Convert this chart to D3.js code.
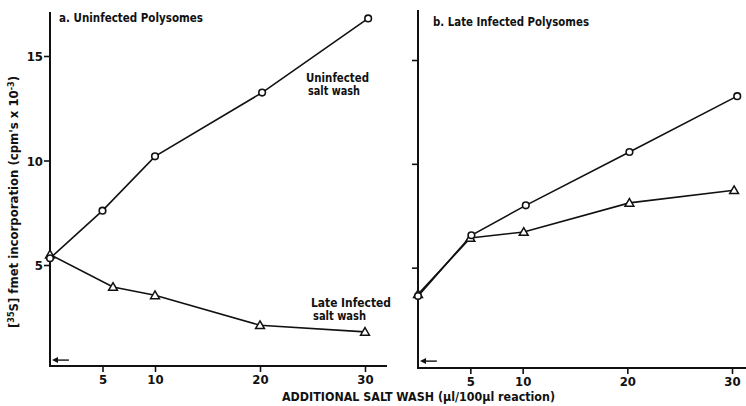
<!DOCTYPE html>
<html><head><meta charset="utf-8">
<script src="https://cdn.jsdelivr.net/npm/d3@7"></script>
<style>
body{margin:0;background:#fff;}
svg text{font-family:"DejaVu Sans Condensed","DejaVu Sans",sans-serif;font-weight:bold;fill:#111;}
</style></head><body>
<svg id="c" width="746" height="406"></svg>
<script>
// ---- data ----
const xTicks = [5, 10, 20, 30];
const yTicks = [5, 10, 15];
const yTickLabels = ["5", "10", "15"];

const aUninfX = [0, 5, 10, 20.2, 30.3];
const aUninfY = [5.32, 7.6, 10.2, 13.25, 16.8];
const aLateX  = [0, 6, 10, 20, 30];
const aLateY  = [5.5, 3.95, 3.55, 2.12, 1.8];
const aBaseline = 0.45;

const bUninfX = [0, 5.1, 10.3, 20.2, 30.5];
const bUninfY = [3.63, 6.56, 8.0, 10.57, 13.26];
const bLateX  = [0, 5, 10.1, 20.2, 30.2];
const bLateY  = [3.72, 6.43, 6.72, 8.12, 8.73];
const bBaseline = 0.5;

const svg = d3.select("#c");
const ink = "#111";

function fitText(sel, len){
  return sel.attr("textLength", len).attr("lengthAdjust","spacingAndGlyphs");
}

function panel(opts){
  const x = d3.scaleLinear().domain([0,30]).range(opts.xr);
  const y = d3.scaleLinear().domain([0,15]).range(opts.yr);
  const g = svg.append("g");
  // y axis
  const yAx = d3.axisLeft(y).tickValues(yTicks).tickSize(6).tickPadding(1)
     .tickFormat((d,i)=> opts.yLabels ? yTickLabels[i] : "");
  const ya = g.append("g").attr("transform",`translate(${opts.xr[0]},0)`).call(yAx);
  ya.select(".domain").remove();
  ya.selectAll("line").attr("stroke",ink).attr("stroke-width",1.6);
  ya.selectAll("text").style("font-size","13px").attr("dy","0.36em");
  g.append("line").attr("x1",opts.xr[0]).attr("x2",opts.xr[0])
    .attr("y1",opts.top).attr("y2",opts.bottom).attr("stroke",ink).attr("stroke-width",2);
  // x axis
  const xAx = d3.axisBottom(x).tickValues(xTicks).tickSize(6).tickPadding(3);
  const xa = g.append("g").attr("transform",`translate(0,${opts.bottom})`).call(xAx);
  xa.select(".domain").remove();
  xa.selectAll("line").attr("stroke",ink).attr("stroke-width",1.6);
  xa.selectAll("text").style("font-size","13px");
  g.append("line").attr("x1",opts.xr[0]-1).attr("x2",opts.xEnd)
    .attr("y1",opts.bottom).attr("y2",opts.bottom).attr("stroke",ink).attr("stroke-width",2);
  // baseline arrow
  const ay = y(opts.baseline);
  g.append("line").attr("x1",x(0)+4).attr("x2",x(1.8)).attr("y1",ay).attr("y2",ay)
    .attr("stroke",ink).attr("stroke-width",1.4);
  g.append("path").attr("d",`M${x(0)+2},${ay} l6,-3 l0,6 z`).attr("fill",ink);
  // series
  const line = d3.line().x(d=>x(d[0])).y(d=>y(d[1]));
  const s1 = opts.ux.map((v,i)=>[v,opts.uy[i]]);
  const s2 = opts.lx.map((v,i)=>[v,opts.ly[i]]);
  [s2,s1].forEach(s=> g.append("path").datum(s).attr("d",line)
      .attr("fill","none").attr("stroke",ink).attr("stroke-width",1.6));
  g.selectAll(".tri").data(s2).join("path")
    .attr("d",d3.symbol(d3.symbolTriangle,34)())
    .attr("transform",d=>`translate(${x(d[0])},${y(d[1])+0.8})`)
    .attr("fill","#fff").attr("stroke",ink).attr("stroke-width",1.5);
  g.selectAll(".cir").data(s1).join("circle")
    .attr("cx",d=>x(d[0])).attr("cy",d=>y(d[1])).attr("r",3.3)
    .attr("fill","#fff").attr("stroke",ink).attr("stroke-width",1.6);
  fitText(g.append("text").attr("x",opts.titleX).attr("y",opts.titleY)
    .style("font-size","12.5px").text(opts.title), opts.titleLen);
}

panel({xr:[50,365], yr:[369.5,56], top:12, bottom:366, xEnd:387,
  ux:aUninfX, uy:aUninfY, lx:aLateX, ly:aLateY, baseline:aBaseline,
  yLabels:true, title:"a. Uninfected Polysomes", titleX:59, titleY:22, titleLen:144});
panel({xr:[418,732], yr:[371.5,60], top:10, bottom:368, xEnd:746,
  ux:bUninfX, uy:bUninfY, lx:bLateX, ly:bLateY, baseline:bBaseline,
  yLabels:false, title:"b. Late Infected Polysomes", titleX:433, titleY:26, titleLen:156});

// annotations
const ann = svg.append("g").style("font-size","12px");
fitText(ann.append("text").attr("x",306).attr("y",82).text("Uninfected"), 63);
fitText(ann.append("text").attr("x",308).attr("y",95).text("salt wash"), 52);
fitText(ann.append("text").attr("x",311).attr("y",307).text("Late Infected"), 80);
fitText(ann.append("text").attr("x",313).attr("y",320).text("salt wash"), 53);

// axis titles
fitText(svg.append("text").attr("x",282).attr("y",401)
  .style("font-size","12.5px").text("ADDITIONAL SALT WASH (\u00b5l/100\u00b5l reaction)"), 273);
const yl = svg.append("text").attr("transform","translate(18,202) rotate(-90)")
  .attr("text-anchor","middle").style("font-size","13px");
yl.append("tspan").text("[");
yl.append("tspan").attr("dy",-4).style("font-size","9px").text("35");
yl.append("tspan").attr("dy",4).text("S] fmet incorporation (cpm's x 10");
yl.append("tspan").attr("dy",-4).style("font-size","9px").text("-3");
yl.append("tspan").attr("dy",4).text(")");
</script></body></html>
